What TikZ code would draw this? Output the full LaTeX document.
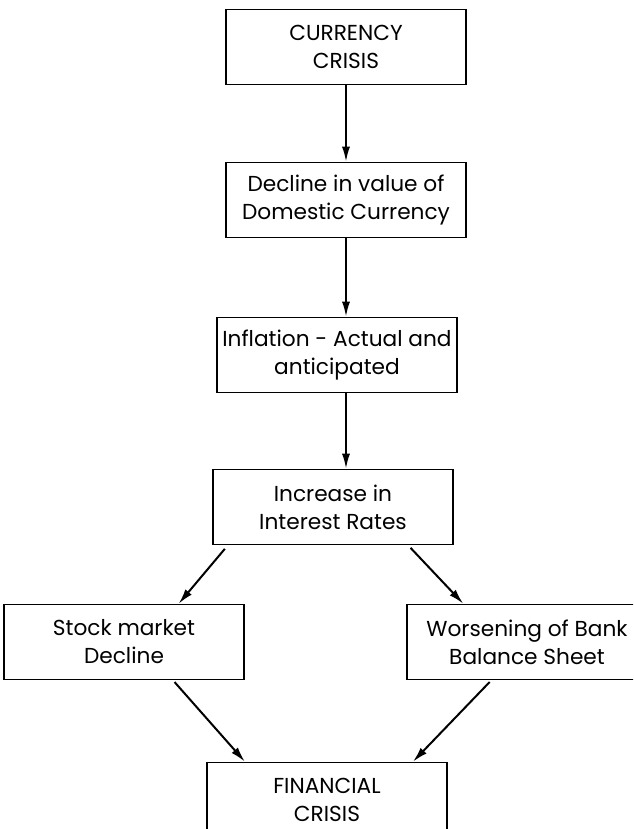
\documentclass[tikz,border=0pt]{standalone}
\usepackage{fontspec}
\setmainfont{Poppins}
\usetikzlibrary{arrows.meta}

\begin{document}
\begin{tikzpicture}[
    x=0.03cm, y=-0.03cm,
    box/.style={rectangle,draw,line width=1.3pt,minimum width=7.2cm,minimum height=2.25cm,align=center,inner sep=0pt,font=\fontsize{18.5}{24}\selectfont},
    arr/.style={line width=1.7pt,-{Latex[length=13pt,width=7pt]}},
  ]
\useasboundingbox (0,0) rectangle (633,829);
\clip (0,0) rectangle (633,829);

\node (currency crisis) [box] at (346,47) {CURRENCY\\CRISIS};
\node (decline) [box] at (346,200) {Decline in value of\\Domestic Currency};
\node (inflation) [box] at (337,355) {Inflation - Actual and\\anticipated};
\node (interest) [box] at (333,507) {Increase in\\Interest Rates};

\node (stock) [box] at (124,642) {Stock market\\Decline};
\node (bank) [box] at (527,642) {Worsening of Bank\\Balance Sheet};
\node (financial crisis) [box] at (327,800) {FINANCIAL\\CRISIS};

\draw[arr] (currency crisis) -- (decline);
\draw[arr] (decline.south) -- (decline.south |- inflation.north);
\draw[arr] (inflation.south -| decline.south) -- (decline.south |- interest.north);

\draw[arr,shorten <=4pt] (interest.-160) -- (stock.35);
\draw[arr,shorten <=3pt] (interest.-27) -- (bank.149);
\draw[arr,shorten <=2pt] (stock.-38) -- (financial crisis.155);
\draw[arr,shorten <=2pt] (bank.-133) -- (financial crisis.24);
\end{tikzpicture}
\end{document}
